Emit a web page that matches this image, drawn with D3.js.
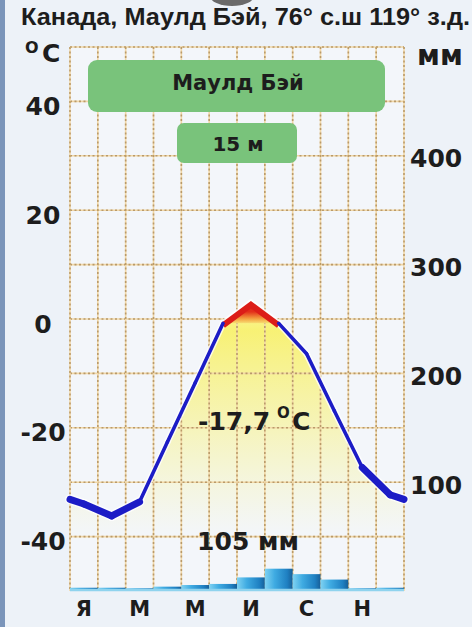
<!DOCTYPE html>
<html><head><meta charset="utf-8">
<script src="https://cdn.jsdelivr.net/npm/d3@7"></script>
<style>body{margin:0;background:#edf2f8}svg{display:block}</style>
</head><body>
<script>
// climate data
const months=["Я","Ф","М","А","М","И","И","А","С","О","Н","Д"];
const shownMonths=[0,2,4,6,8,10];
const temps=[-34.0,-36.2,-33.6,-22.6,-11.7,-0.8,3.0,-0.8,-6.4,-16.9,-27.3,-32.3];
const precip=[3,3,2.5,4,5.5,6.5,12.5,20.5,15.5,10.5,2.5,3];
const tempTicks=[-40,-20,0,20,40];
const precipTicks=[100,200,300,400];
const gridTemps=d3.range(-40,51,10);
const title="Канада, Маулд Бэй, 76° с.ш 119° з.д.";
const station="Маулд Бэй", elev="15 м", meanT="-17,7", totalP="105 мм";

const W=472,H=627;
const svg=d3.select("body").append("svg").attr("width",W).attr("height",H);
const defs=svg.append("defs");

let x=d3.scaleBand().domain(d3.range(12)).range([70,404]).padding(0);
let xc=i=>x(i)+x.bandwidth()/2;
let y=d3.scaleLinear().domain([-50,50]).range([591,47]);
let yP=d3.scaleLinear().domain([0,500]).range([591,47]);
let [x0,x1]=x.range();

// gradients
let bg=defs.append("linearGradient").attr("id","barG").attr("x1",0).attr("x2",1).attr("y1",0).attr("y2",0);
[["0","#7fd2f2"],["0.35","#3fabe2"],["0.8","#1f80c2"],["1","#175f98"]].forEach(s=>bg.append("stop").attr("offset",s[0]).attr("stop-color",s[1]));
let yg=defs.append("linearGradient").attr("id","yelG").attr("gradientUnits","userSpaceOnUse")
  .attr("x1",0).attr("x2",0).attr("y1",y(3)).attr("y2",y(-40));
yg.append("stop").attr("offset",0).attr("stop-color","#fbf7a8").attr("stop-opacity",1);
yg.append("stop").attr("offset",0.12).attr("stop-color","#f8f16e").attr("stop-opacity",0.95);
yg.append("stop").attr("offset",0.5).attr("stop-color","#f8f286").attr("stop-opacity",0.6);
yg.append("stop").attr("offset",1).attr("stop-color","#f8f5a0").attr("stop-opacity",0);
let rg=defs.append("linearGradient").attr("id","redG").attr("gradientUnits","userSpaceOnUse")
  .attr("x1",0).attr("x2",0).attr("y1",y(3.2)).attr("y2",y(-1));
rg.append("stop").attr("offset",0).attr("stop-color","#dc1d18");
rg.append("stop").attr("offset",0.45).attr("stop-color","#e3301a");
rg.append("stop").attr("offset",0.75).attr("stop-color","#f4a040");
rg.append("stop").attr("offset",1).attr("stop-color","#f8ee80");

// background
svg.append("rect").attr("width",W).attr("height",H).attr("fill","#edf2f8");
svg.append("rect").attr("x",0).attr("y",0).attr("width",5).attr("height",H).attr("fill","#7b95ba");
svg.append("ellipse").attr("cx",232).attr("cy",-4).attr("rx",22).attr("ry",10).attr("fill","#6a6a6a");
svg.append("rect").attr("x",x0).attr("y",y(50)).attr("width",x1-x0).attr("height",y(-50)-y(50)).attr("fill","#f3f6fa");

// points with wrap at the edges
let edgeT=(temps[11]+temps[0])/2;
let pts=[[x0,edgeT]].concat(temps.map((t,i)=>[xc(i),t])).concat([[x1,edgeT]]);

let area=d3.area().x(d=>d[0]).y0(y(-50)).y1(d=>y(d[1]));
svg.append("path").datum(pts).attr("d",area).attr("fill","url(#yelG)");

// grid
let grid=svg.append("g");
function gline(xa,ya,xb,yb){
  grid.append("line").attr("x1",xa).attr("y1",ya).attr("x2",xb).attr("y2",yb)
    .attr("stroke","#f1d7a6").attr("stroke-width",1.6);
  grid.append("line").attr("x1",xa).attr("y1",ya).attr("x2",xb).attr("y2",yb)
    .attr("stroke","#b99a6a").attr("stroke-width",1.6).attr("stroke-dasharray","2,2.5");
}
gridTemps.forEach(t=>gline(x0,y(t),x1,y(t)));
d3.range(13).forEach(i=>{let xx=x0+i*x.bandwidth(); gline(xx,y(50),xx,y(-50));});

// precipitation bars
svg.append("g").selectAll("rect").data(precip).enter().append("rect")
  .attr("x",(d,i)=>x(i)).attr("width",x.bandwidth())
  .attr("y",d=>yP(d)).attr("height",d=>yP(0)-yP(d))
  .attr("fill","url(#barG)");
svg.append("line").attr("x1",x0).attr("x2",x1).attr("y1",yP(0)-1).attr("y2",yP(0)-1)
  .attr("stroke","#8fd3ee").attr("stroke-width",2.5);

// temperature line, thicker on the coldest months, red where it rises above zero
let line=d3.line().x(d=>d[0]).y(d=>y(d[1]));
let segs=d3.pairs(pts);
let warm=s=>s[0][1]>0||s[1][1]>0;
let sw=s=>(s[0][1]<=-27&&s[1][1]<=-27)?7:3.6;
let warmPts=pts.filter((p,k)=>p[1]>0||(pts[k-1]&&pts[k-1][1]>0)||(pts[k+1]&&pts[k+1][1]>0));

svg.append("g").selectAll("path").data(segs).enter().append("path")
  .attr("d",line).attr("fill","none").attr("stroke","#ffffff").attr("stroke-opacity",0.75)
  .attr("stroke-width",s=>sw(s)+3).attr("stroke-linecap","round");
svg.append("path").attr("d",line(warmPts)+"Z").attr("fill","url(#redG)");
svg.append("path").attr("d",line(warmPts)).attr("fill","none")
  .attr("stroke","#dc1d18").attr("stroke-width",6).attr("stroke-linejoin","miter")
  .attr("transform","translate(0,2)");
svg.append("g").selectAll("path").data(segs.filter(s=>!warm(s))).enter().append("path")
  .attr("d",line).attr("fill","none").attr("stroke","#1c1cc6")
  .attr("stroke-width",sw).attr("stroke-linecap","round");

// green labels
svg.append("rect").attr("x",88).attr("y",60).attr("width",297).attr("height",52).attr("rx",9).attr("fill","#79c37b");
svg.append("rect").attr("x",177).attr("y",123).attr("width",120).attr("height",40).attr("rx",7).attr("fill","#79c37b");

const F="DejaVu Sans";
function txt(s,xx,yy,size,anchor,len){
  let t=svg.append("text").attr("x",xx).attr("y",yy).text(s)
    .attr("font-family",F).attr("font-weight","bold").attr("font-size",size)
    .attr("fill","#1d1d1d").attr("text-anchor",anchor||"start");
  if(len) t.attr("textLength",len).attr("lengthAdjust","spacingAndGlyphs");
  return t;
}
txt(title,21,25,20,"start",449).attr("font-family","Liberation Sans").attr("font-size",23);
txt(station,238,90,21,"middle");
txt(elev,238,151,20,"middle");

// axis labels
txt("O",25,53,16,"start");
txt("C",42,62,25,"start");
txt("мм",417,65,28,"start");
tempTicks.forEach(t=>txt(String(t),43,y(t)+13.5,25,"middle"));
precipTicks.forEach(p=>txt(String(p),410,yP(p)+11.5,25,"start"));
shownMonths.forEach(i=>txt(months[i],xc(i),616,21,"middle"));

// summary
txt(meanT,198,430,25,"start");
txt("O",277,418,15,"start");
txt("C",292,430,25,"start");
txt(totalP,248,550,25,"middle");
</script>
</body></html>
